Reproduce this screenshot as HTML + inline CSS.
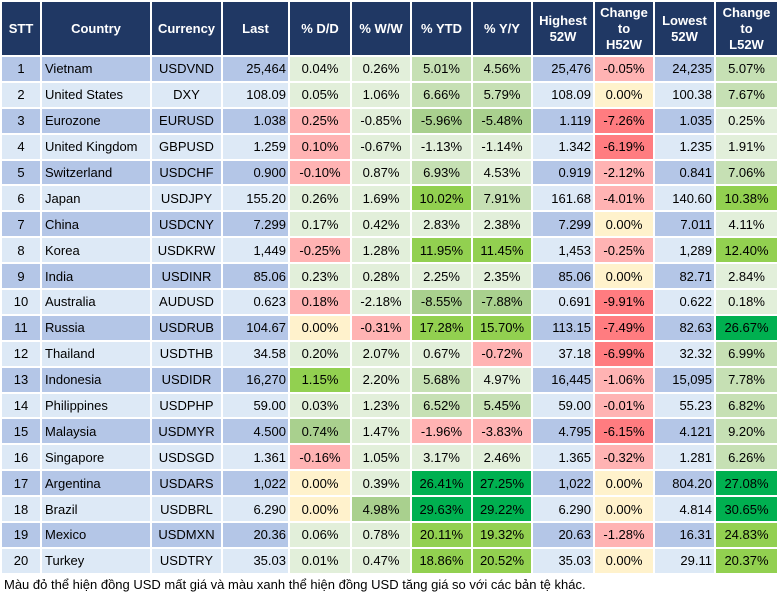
<!DOCTYPE html>
<html><head><meta charset="utf-8">
<style>
body{margin:0;background:#fff;width:777px;height:602px;overflow:hidden;font-family:"Liberation Sans",Arial,sans-serif;}
table{position:absolute;left:0;top:0;border-collapse:collapse;table-layout:fixed;width:777px;font-size:13px;color:#000;}
td,th{border:2px solid #fff;padding:0;white-space:nowrap;overflow:hidden;}
th{background:#203864;color:#fff;font-weight:bold;font-size:13px;line-height:16px;}
tr.hd{height:55px;}
tr.b{height:25.9px;}
tr.odd td.bg{background:#b4c6e7;}
tr.even td.bg{background:#dde9f6;}
.c{text-align:center}.l{text-align:left;padding-left:3px}.r{text-align:right;padding-right:2px}
.L{background:#e2efda}.M{background:#c6e0b4}.A{background:#a9d08e}.B{background:#92d050}.G{background:#00b050}
.Y{background:#fff2cc}.P{background:#ffb3b3}.R{background:#ff7c80}
#note{position:absolute;left:4px;top:577px;font-size:13px;color:#000;}
</style></head><body>
<table>
<colgroup><col style="width:40px"><col style="width:110px"><col style="width:71px"><col style="width:67px"><col style="width:62px"><col style="width:60px"><col style="width:61px"><col style="width:60px"><col style="width:62px"><col style="width:60px"><col style="width:61px"><col style="width:63px"></colgroup>
<thead><tr class="hd">
<th>STT</th>
<th>Country</th>
<th>Currency</th>
<th>Last</th>
<th>% D/D</th>
<th>% W/W</th>
<th>% YTD</th>
<th>% Y/Y</th>
<th>Highest<br>52W</th>
<th>Change<br>to<br>H52W</th>
<th>Lowest<br>52W</th>
<th>Change<br>to<br>L52W</th>
</tr></thead>
<tbody id="tb"></tbody>
</table>
<div id="note">Màu đỏ thể hiện đồng USD mất giá và màu xanh thể hiện đồng USD tăng giá so với các bản tệ khác.</div>
<script>
const countries=["Vietnam","United States","Eurozone","United Kingdom","Switzerland","Japan","China","Korea","India","Australia","Russia","Thailand","Indonesia","Philippines","Malaysia","Singapore","Argentina","Brazil","Mexico","Turkey"];
const currencies=["USDVND","DXY","EURUSD","GBPUSD","USDCHF","USDJPY","USDCNY","USDKRW","USDINR","AUDUSD","USDRUB","USDTHB","USDIDR","USDPHP","USDMYR","USDSGD","USDARS","USDBRL","USDMXN","USDTRY"];
const lastVals=["25,464","108.09","1.038","1.259","0.900","155.20","7.299","1,449","85.06","0.623","104.67","34.58","16,270","59.00","4.500","1.361","1,022","6.290","20.36","35.03"];
const dd=["0.04%","0.05%","0.25%","0.10%","-0.10%","0.26%","0.17%","-0.25%","0.23%","0.18%","0.00%","0.20%","1.15%","0.03%","0.74%","-0.16%","0.00%","0.00%","0.06%","0.01%"];
const ww=["0.26%","1.06%","-0.85%","-0.67%","0.87%","1.69%","0.42%","1.28%","0.28%","-2.18%","-0.31%","2.07%","2.20%","1.23%","1.47%","1.05%","0.39%","4.98%","0.78%","0.47%"];
const ytd=["5.01%","6.66%","-5.96%","-1.13%","6.93%","10.02%","2.83%","11.95%","2.25%","-8.55%","17.28%","0.67%","5.68%","6.52%","-1.96%","3.17%","26.41%","29.63%","20.11%","18.86%"];
const yy=["4.56%","5.79%","-5.48%","-1.14%","4.53%","7.91%","2.38%","11.45%","2.35%","-7.88%","15.70%","-0.72%","4.97%","5.45%","-3.83%","2.46%","27.25%","29.22%","19.32%","20.52%"];
const high52=["25,476","108.09","1.119","1.342","0.919","161.68","7.299","1,453","85.06","0.691","113.15","37.18","16,445","59.00","4.795","1.365","1,022","6.290","20.63","35.03"];
const chgH=["-0.05%","0.00%","-7.26%","-6.19%","-2.12%","-4.01%","0.00%","-0.25%","0.00%","-9.91%","-7.49%","-6.99%","-1.06%","-0.01%","-6.15%","-0.32%","0.00%","0.00%","-1.28%","0.00%"];
const low52=["24,235","100.38","1.035","1.235","0.841","140.60","7.011","1,289","82.71","0.622","82.63","32.32","15,095","55.23","4.121","1.281","804.20","4.814","16.31","29.11"];
const chgL=["5.07%","7.67%","0.25%","1.91%","7.06%","10.38%","4.11%","12.40%","2.84%","0.18%","26.67%","6.99%","7.78%","6.82%","9.20%","6.26%","27.08%","30.65%","24.83%","20.37%"];
// heat classes per row: D/D, W/W, YTD, Y/Y, ChgH, ChgL
const heat=["LLMMPM","LLMMYM","PLAARL","PLLLRL","PLMLPM","LLBMPB","LLLLYL","PLBBPB","LLLLYL","PLAARL","YPBBRG","LLLPRM","BLMLPM","LLMMPM","ALPPRM","PLLLPM","YLGGYG","YAGGYG","LLBBPB","LLBBYB"];
const tb=document.getElementById('tb');
function cell(tr,txt,cls,name){const td=document.createElement('td');td.className=cls;td.textContent=txt;


tr.appendChild(td);}
countries.forEach((c,i)=>{
 const tr=document.createElement('tr');tr.className='b '+(i%2===0?'odd':'even');
 
 
 const h=heat[i];
 cell(tr,String(i+1),'bg c','stt-cell');
 cell(tr,c,'bg l','country-cell');
 cell(tr,currencies[i],'bg c','currency-cell');
 cell(tr,lastVals[i],'bg r','last-cell');
 cell(tr,dd[i],h[0]+' c','dd-cell');
 cell(tr,ww[i],h[1]+' c','ww-cell');
 cell(tr,ytd[i],h[2]+' c','ytd-cell');
 cell(tr,yy[i],h[3]+' c','yy-cell');
 cell(tr,high52[i],'bg r','high52-cell');
 cell(tr,chgH[i],h[4]+' c','change-h52-cell');
 cell(tr,low52[i],'bg r','low52-cell');
 cell(tr,chgL[i],h[5]+' c','change-l52-cell');
 tb.appendChild(tr);
});
</script>
</body></html>
